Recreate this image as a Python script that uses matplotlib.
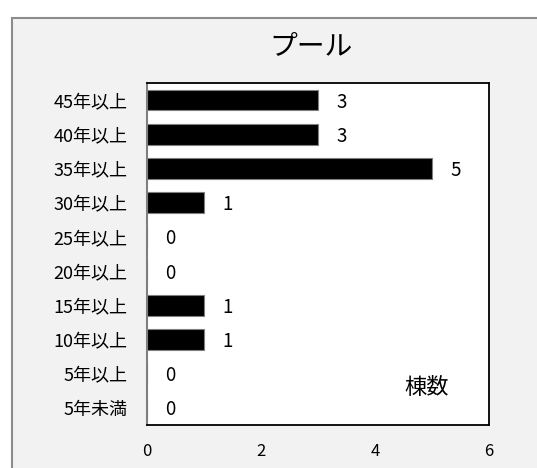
import matplotlib.pyplot as plt
from matplotlib.patches import Rectangle

plt.rcParams['font.family'] = ['Noto Sans CJK JP', 'DejaVu Sans']

# データ (下から上の順)
categories = ['5年未満', '5年以上', '10年以上', '15年以上', '20年以上',
              '25年以上', '30年以上', '35年以上', '40年以上', '45年以上']
counts = [0, 0, 1, 1, 0, 0, 1, 5, 3, 3]
x_ticks = [0, 2, 4, 6]

fig = plt.figure(figsize=(5.37, 4.68), dpi=100)
fig.patch.set_facecolor('white')

# 外枠 (右と下は画像の外まで)
fig.patches.append(Rectangle((12 / 537, -0.05), 1.0, 1 - 18 / 468 + 0.05,
                             transform=fig.transFigure, facecolor='#f2f2f2',
                             edgecolor='#8c8c8c', linewidth=1.5, zorder=-10))

ax = fig.add_axes([147 / 537, 1 - 425 / 468, (489 - 147) / 537, (425 - 83) / 468])
ax.set_facecolor('white')

y = range(len(categories))
ax.barh(y, counts, height=0.6, color='black', edgecolor='#7f7f7f', linewidth=0.8)

for yi, v in zip(y, counts):
    ax.text(v + 0.32, yi - 0.06, str(v), va='center', ha='left', fontsize=13.5)

ax.set_xlim(0, 6)
ax.set_ylim(-0.5, len(categories) - 0.5)
ax.set_xticks(x_ticks)
ax.set_xticklabels([str(t) for t in x_ticks], fontsize=12)
ax.set_yticks(list(y))
ax.set_yticklabels(categories, fontsize=13)
ax.tick_params(length=0, pad=13, axis='x')
ax.tick_params(length=0, pad=14, axis='y')

for s in ['top', 'right', 'bottom']:
    ax.spines[s].set_color('black')
    ax.spines[s].set_linewidth(1.3)
ax.spines['left'].set_color('#7f7f7f')
ax.spines['left'].set_linewidth(1.5)

ax.text(4.9, 0.6, '棟数', fontsize=16, ha='center', va='center')

fig.text(311 / 537, 1 - 46 / 468, 'プール', fontsize=20, ha='center', va='center')

fig.savefig('out.png', dpi=100)
